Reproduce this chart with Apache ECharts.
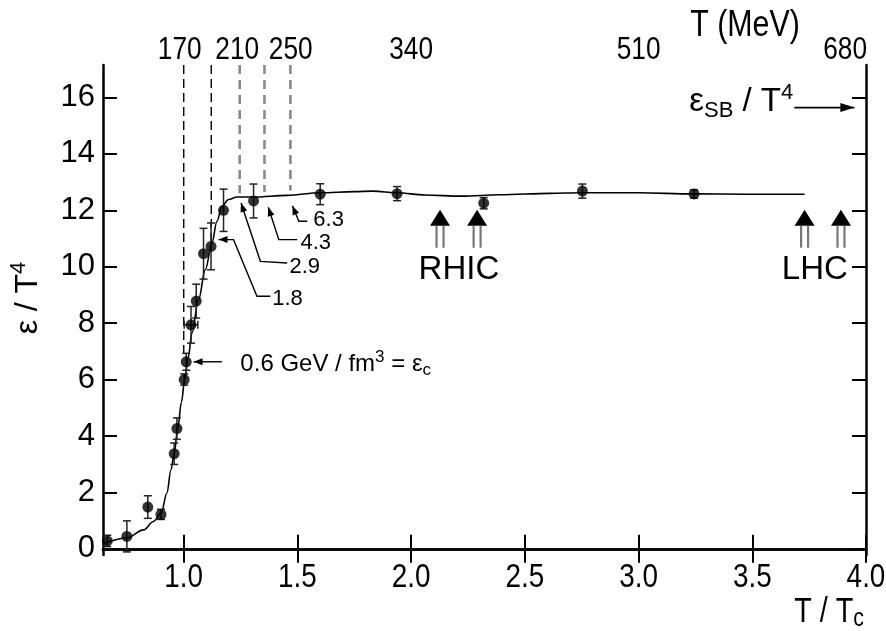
<!DOCTYPE html>
<html>
<head>
<meta charset="utf-8">
<script src="https://cdn.jsdelivr.net/npm/echarts@6/dist/echarts.min.js"></script>
<style>
  html, body { margin: 0; padding: 0; background: #fff; }
  #main { width: 886px; height: 631px; }
</style>
</head>
<body>
<div id="main"></div>
<script>
// lattice curve (T/Tc, eps/T^4)
const curveX = [0.645, 0.75, 0.823, 0.867, 0.901, 0.926, 0.944, 0.958, 0.973, 0.99, 1.004, 1.02, 1.036, 1.065, 1.095, 1.124, 1.146, 1.168, 1.197, 1.234, 1.307, 1.455, 1.6, 1.75, 1.83, 1.94, 2.06, 2.22, 2.39, 2.61, 2.75, 3.0, 3.24, 3.48, 3.73];
const curveY = [0.18, 0.38, 0.67, 0.97, 1.27, 1.98, 2.8, 3.37, 4.22, 5.2, 5.99, 6.8, 7.65, 8.83, 9.89, 10.84, 11.61, 12.14, 12.38, 12.47, 12.47, 12.53, 12.62, 12.66, 12.68, 12.62, 12.54, 12.5, 12.55, 12.6, 12.62, 12.62, 12.58, 12.57, 12.57];

// data points with errors
const ptX = [0.664, 0.75, 0.842, 0.90, 0.958, 0.97, 1.002, 1.011, 1.032, 1.055, 1.087, 1.12, 1.175, 1.307, 1.60, 1.938, 2.319, 2.753, 3.244];
const ptY = [0.28, 0.44, 1.48, 1.22, 3.37, 4.26, 6.0, 6.63, 7.94, 8.78, 10.46, 10.72, 12.0, 12.33, 12.57, 12.59, 12.25, 12.68, 12.58];
const ptErr = [0.2, 0.55, 0.4, 0.18, 0.38, 0.38, 0.2, 0.3, 0.65, 0.6, 0.9, 0.83, 0.75, 0.6, 0.37, 0.25, 0.2, 0.25, 0.15];
const ptXErr = [0, 0, 0, 0, 0, 0, 0, 0, 0.03, 0, 0, 0, 0, 0, 0, 0, 0, 0, 0];

// axes
const xTicks = [1.0, 1.5, 2.0, 2.5, 3.0, 3.5, 4.0];
const yTicks = [0, 2, 4, 6, 8, 10, 12, 14, 16];
const topMeV = [170, 210, 250, 340, 510, 680];
const Tc = 170;
const X_MIN = 0.645, X_MAX = 4.0, Y_MIN = -0.22, Y_MAX = 17.15;

// vertical dashed lines (energy densities)
const dashX = [1.0, 1.121, 1.246, 1.355, 1.469];
const dashEnd = [6.8, 10.9, 12.6, 12.65, 12.7];
const dashGray = [false, false, true, true, true];

// accelerator arrows
const rhicX = [2.127, 2.29];
const lhcX = [3.73, 3.89];
const arrowTipY = 12.02;

// eps labels in GeV/fm^3 with leader paths (data coords)
const epsLabels = ['1.8', '2.9', '4.3', '6.3'];
const epsPaths = [
  [[1.381, 8.95], [1.322, 8.95], [1.219, 10.96], [1.153, 10.96]],
  [[1.455, 10.13], [1.337, 10.19], [1.252, 12.26]],
  [[1.499, 10.96], [1.418, 10.96], [1.372, 12.11]],
  [[1.543, 11.61], [1.506, 11.61], [1.478, 12.16]]
];
const epsLabelPos = [[1.389, 8.87], [1.465, 9.98], [1.513, 10.83], [1.570, 11.67]];

const SANS = '"Liberation Sans", Arial, sans-serif';
const NARROW_SCALE = 0.82; // the figure uses a condensed face for the T labels

const chart = echarts.init(document.getElementById('main'));

const frameLine = { show: true, lineStyle: { color: '#000', width: 2.5 } };
const tickStyle = { inside: true, length: 14, lineStyle: { color: '#000', width: 2 } };

const series = [];

// dashed verticals
dashX.forEach((x, i) => {
  series.push({
    type: 'line',
    data: [[x, Y_MAX], [x, dashEnd[i]]],
    symbol: 'none',
    silent: true,
    lineStyle: dashGray[i]
      ? { color: '#8a8a8a', width: 2.6, type: [9, 6] }
      : { color: '#000', width: 1.4, type: [9, 5] },
    z: 1
  });
});

series.push({
  type: 'line',
  data: curveX.map((x, i) => [x, curveY[i]]),
  smooth: 0.35,
  smoothMonotone: 'x',
  symbol: 'none',
  lineStyle: { color: '#000', width: 1.6 },
  z: 2
});

series.push({
  type: 'custom',
  data: ptX.map((x, i) => [x, ptY[i], ptErr[i], ptXErr[i]]),
  renderItem: function (params, api) {
    const x = api.value(0), y = api.value(1), e = api.value(2), xe = api.value(3);
    const t = api.coord([x, y + e]);
    const b = api.coord([x, y - e]);
    const st = { stroke: '#222', lineWidth: 1.5 };
    const kids = [
      { type: 'line', shape: { x1: t[0], y1: t[1], x2: b[0], y2: b[1] }, style: st },
      { type: 'line', shape: { x1: t[0] - 4, y1: t[1], x2: t[0] + 4, y2: t[1] }, style: st },
      { type: 'line', shape: { x1: b[0] - 4, y1: b[1], x2: b[0] + 4, y2: b[1] }, style: st }
    ];
    if (xe > 0) {
      const l = api.coord([x - xe, y]);
      const r = api.coord([x + xe, y]);
      kids.push({ type: 'line', shape: { x1: l[0], y1: l[1], x2: r[0], y2: r[1] }, style: st });
      kids.push({ type: 'line', shape: { x1: l[0], y1: l[1] - 4, x2: l[0], y2: l[1] + 4 }, style: st });
      kids.push({ type: 'line', shape: { x1: r[0], y1: r[1] - 4, x2: r[0], y2: r[1] + 4 }, style: st });
    }
    return { type: 'group', children: kids };
  },
  z: 3
});

series.push({
  type: 'scatter',
  data: ptX.map((x, i) => [x, ptY[i]]),
  symbol: 'circle',
  symbolSize: 11,
  itemStyle: { color: '#000' },
  z: 4
});

// RHIC / LHC arrows
series.push({
  type: 'custom',
  data: rhicX.concat(lhcX).map(x => [x, arrowTipY]),
  renderItem: function (params, api) {
    const p = api.coord([api.value(0), api.value(1)]);
    return {
      type: 'group',
      children: [
        { type: 'polygon', shape: { points: [[p[0], p[1]], [p[0] - 10, p[1] + 16], [p[0] + 10, p[1] + 16]] }, style: { fill: '#000' } },
        { type: 'line', shape: { x1: p[0] - 3.5, y1: p[1] + 16, x2: p[0] - 3.5, y2: p[1] + 38 }, style: { stroke: '#777', lineWidth: 2.2 } },
        { type: 'line', shape: { x1: p[0] + 3.5, y1: p[1] + 16, x2: p[0] + 3.5, y2: p[1] + 38 }, style: { stroke: '#777', lineWidth: 2.2 } }
      ]
    };
  },
  z: 5
});

chart.setOption({
  animation: false,
  grid: { left: 103, right: 20, top: 65, bottom: 76 },
  xAxis: [
    {
      type: 'value', min: X_MIN, max: X_MAX, position: 'bottom',
      axisLine: frameLine,
      axisTick: Object.assign({ customValues: xTicks }, tickStyle),
      axisLabel: { show: false },
      splitLine: { show: false }
    },
    {
      type: 'value', min: X_MIN, max: X_MAX, position: 'top',
      axisLine: frameLine,
      axisTick: Object.assign({ customValues: xTicks }, tickStyle),
      axisLabel: { show: false },
      splitLine: { show: false }
    }
  ],
  yAxis: [
    {
      type: 'value', min: Y_MIN, max: Y_MAX,
      axisLine: frameLine,
      axisTick: Object.assign({ customValues: yTicks }, tickStyle),
      axisLabel: { customValues: yTicks, color: '#000', fontFamily: SANS, fontSize: 31, margin: 8 },
      splitLine: { show: false }
    },
    {
      type: 'value', min: Y_MIN, max: Y_MAX, position: 'right',
      axisLine: frameLine,
      axisTick: Object.assign({ customValues: yTicks }, tickStyle),
      axisLabel: { show: false },
      splitLine: { show: false }
    }
  ],
  series: series
});

// annotations, placed in data coordinates
function px(p) { return chart.convertToPixel({ gridIndex: 0 }, p); }

function arrowHead(tip, from, len, half) {
  const dx = tip[0] - from[0], dy = tip[1] - from[1];
  const d = Math.sqrt(dx * dx + dy * dy) || 1;
  const ux = dx / d, uy = dy / d;
  const bx = tip[0] - ux * len, by = tip[1] - uy * len;
  return {
    type: 'polygon',
    shape: { points: [tip, [bx - uy * half, by + ux * half], [bx + uy * half, by - ux * half]] },
    style: { fill: '#000' }
  };
}

const g = [];
const txt = { fill: '#000', fontFamily: SANS, fontSize: 22 };
const rect = chart.getModel().getComponent('grid', 0).coordinateSystem.getRect();

// condensed tick labels for T/Tc (bottom) and T in MeV (top)
xTicks.forEach(v => {
  const p = px([v, 0]);
  g.push({
    type: 'text', x: p[0], y: rect.y + rect.height + 23, scaleX: NARROW_SCALE,
    style: { text: v.toFixed(1), align: 'center', verticalAlign: 'middle', fill: '#000', fontFamily: SANS, fontSize: 34 }
  });
});
topMeV.forEach((t, i) => {
  const p = px([t / Tc, 0]);
  const last = i === topMeV.length - 1;
  g.push({
    type: 'text', x: last ? p[0] + 1 : p[0] - (i === 0 ? 4 : 0), y: rect.y - 15, scaleX: NARROW_SCALE,
    style: { text: String(t), align: last ? 'right' : 'center', verticalAlign: 'middle', fill: '#000', fontFamily: SANS, fontSize: 32 }
  });
});

epsPaths.forEach((path, i) => {
  const pts = path.map(px);
  g.push({ type: 'polyline', shape: { points: pts }, style: { stroke: '#000', lineWidth: 1.4, fill: null } });
  g.push(arrowHead(pts[pts.length - 1], pts[pts.length - 2], 9, 3.5));
  const lp = px(epsLabelPos[i]);
  g.push({ type: 'text', x: lp[0], y: lp[1], style: Object.assign({ text: epsLabels[i], align: 'left', verticalAlign: 'middle' }, txt) });
});

// eps_c arrow
const ecTail = px([1.168, 6.63]), ecTip = px([1.043, 6.63]);
g.push({ type: 'line', shape: { x1: ecTail[0], y1: ecTail[1], x2: ecTip[0], y2: ecTip[1] }, style: { stroke: '#000', lineWidth: 1.4 } });
g.push(arrowHead(ecTip, ecTail, 9, 3.5));
const ecLab = px([1.249, 6.55]);
g.push({
  type: 'text', x: ecLab[0], y: ecLab[1],
  style: {
    text: '0.6 GeV / fm{sup|3} = ε{sub|c}', align: 'left', verticalAlign: 'middle',
    fill: '#000', fontFamily: SANS, fontSize: 24, lineHeight: 30,
    rich: {
      sup: { fontSize: 17, lineHeight: 17, verticalAlign: 'top', fontFamily: SANS, fill: '#000' },
      sub: { fontSize: 17, lineHeight: 17, verticalAlign: 'bottom', fontFamily: SANS, fill: '#000' }
    }
  }
});

// eps_SB arrow
const sbFrom = px([3.685, 15.64]), sbTo = px([3.949, 15.64]);
g.push({ type: 'line', shape: { x1: sbFrom[0], y1: sbFrom[1], x2: sbTo[0], y2: sbTo[1] }, style: { stroke: '#000', lineWidth: 1.6 } });
g.push(arrowHead(sbTo, sbFrom, 14, 4.5));
const sbLab = px([3.68, 15.85]);
g.push({
  type: 'text', x: sbLab[0], y: sbLab[1],
  style: {
    text: 'ε{sub|SB} / T{sup|4}', align: 'right', verticalAlign: 'middle',
    fill: '#000', fontFamily: SANS, fontSize: 33, lineHeight: 40,
    rich: {
      sup: { fontSize: 22, lineHeight: 22, verticalAlign: 'top', fontFamily: SANS, fill: '#000' },
      sub: { fontSize: 22, lineHeight: 22, verticalAlign: 'bottom', fontFamily: SANS, fill: '#000' }
    }
  }
});

// RHIC / LHC labels
const rl = px([2.21, 9.9]), ll = px([3.775, 9.9]);
g.push({ type: 'text', x: rl[0], y: rl[1], style: { text: 'RHIC', align: 'center', verticalAlign: 'middle', fill: '#000', fontFamily: SANS, fontSize: 33 } });
g.push({ type: 'text', x: ll[0], y: ll[1], style: { text: 'LHC', align: 'center', verticalAlign: 'middle', fill: '#000', fontFamily: SANS, fontSize: 33 }, z: 10 });

// axis titles
g.push({ type: 'text', x: 745, y: 26, scaleX: NARROW_SCALE, style: { text: 'T (MeV)', align: 'center', verticalAlign: 'middle', fill: '#000', fontFamily: SANS, fontSize: 37 } });
g.push({
  type: 'text', x: 864, y: 612, scaleX: NARROW_SCALE,
  style: {
    text: 'T / T{sub|c}', align: 'right', verticalAlign: 'middle',
    fill: '#000', fontFamily: SANS, fontSize: 35, lineHeight: 40,
    rich: { sub: { fontSize: 26, lineHeight: 26, verticalAlign: 'bottom', fontFamily: SANS, fill: '#000' } }
  }
});
g.push({
  type: 'text', x: 28, y: 298, rotation: Math.PI / 2,
  style: {
    text: 'ε / T{sup|4}', align: 'center', verticalAlign: 'middle',
    fill: '#000', fontFamily: SANS, fontSize: 32, lineHeight: 40,
    rich: { sup: { fontSize: 22, lineHeight: 22, verticalAlign: 'top', fontFamily: SANS, fill: '#000' } }
  }
});

chart.setOption({ graphic: g });
</script>
</body>
</html>
